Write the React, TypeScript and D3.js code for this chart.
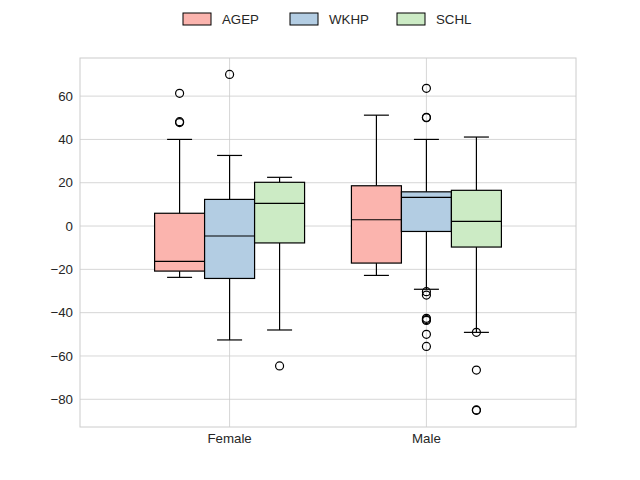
import React from "react";
import * as d3 from "d3";

const categories = ["Female", "Male"];
const seriesNames = ["AGEP", "WKHP", "SCHL"];
const seriesColors = ["#fbb4ae", "#b3cde3", "#ccebc5"];
const yTicks = [-80, -60, -40, -20, 0, 20, 40, 60];

// per series: [Female, Male]
const q1 = [[-20.8, -17.1], [-24.2, -2.5], [-7.8, -9.7]];
const medians = [[-16.3, 2.9], [-4.6, 13.2], [10.5, 2.2]];
const q3 = [[5.9, 18.6], [12.3, 15.8], [20.2, 16.5]];
const whiskerLow = [[-23.7, -22.8], [-52.6, -29.2], [-48.0, -49.1]];
const whiskerHigh = [[40.0, 51.2], [32.6, 40.0], [22.5, 41.1]];
const outliers = [
  [[61.3, 48.2, 47.8], []],
  [[70.0], [63.6, 50.2, 50.0, -30.3, -31.9, -42.6, -43.2, -43.6, -50.0, -55.6]],
  [[-64.6], [-49.1, -66.5, -84.9, -85.1]],
];

const W = 640, H = 480;
const left = 80, right = 576, top = 58, bottom = 427;
const font = "'Liberation Sans', Arial, sans-serif";
const textColor = "#262626";

export default function App() {
  const x = d3.scaleLinear().domain([-0.76, 1.76]).range([left, right]);
  const y = d3.scaleLinear().domain([-92.8, 77.6]).range([bottom, top]);
  const boxW = 0.254; // in category units
  const offsets = [-1, 0, 1];
  const pxW = x(boxW) - x(0);
  const capW = pxW / 2;

  return (
    <svg width={W} height={H} style={{ position: "absolute", left: 0, top: 0 }}>
      <rect x={0} y={0} width={W} height={H} fill="#fff" />
      {yTicks.map((t) => (
        <g key={t}>
          <line x1={left} x2={right} y1={y(t)} y2={y(t)} stroke="#cccccc" strokeWidth={0.8} />
          <text x={left - 7} y={y(t)} dy="0.35em" textAnchor="end" fontSize={13.3} fontFamily={font} fill={textColor}>
            {t === 0 ? "0" : `\u2212${Math.abs(t)}`.replace("\u2212", t < 0 ? "\u2212" : "").replace(/^/, "")}
          </text>
        </g>
      ))}
      {categories.map((c, i) => (
        <g key={c}>
          <line x1={x(i)} x2={x(i)} y1={top} y2={bottom} stroke="#cccccc" strokeWidth={0.8} />
          <text x={x(i)} y={bottom + 16} textAnchor="middle" fontSize={13.3} fontFamily={font} fill={textColor}>
            {c}
          </text>
        </g>
      ))}
      <rect x={left} y={top} width={right - left} height={bottom - top} fill="none" stroke="#cccccc" strokeWidth={1} />
      {seriesNames.map((s, si) =>
        categories.map((c, ci) => {
          const cx = x(ci + offsets[si] * boxW);
          return (
            <g key={s + c}>
              <line x1={cx} x2={cx} y1={y(q3[si][ci])} y2={y(whiskerHigh[si][ci])} stroke="#000" strokeWidth={1.2} />
              <line x1={cx} x2={cx} y1={y(q1[si][ci])} y2={y(whiskerLow[si][ci])} stroke="#000" strokeWidth={1.2} />
              <line x1={cx - capW / 2} x2={cx + capW / 2} y1={y(whiskerHigh[si][ci])} y2={y(whiskerHigh[si][ci])} stroke="#000" strokeWidth={1.2} />
              <line x1={cx - capW / 2} x2={cx + capW / 2} y1={y(whiskerLow[si][ci])} y2={y(whiskerLow[si][ci])} stroke="#000" strokeWidth={1.2} />
              <rect
                x={cx - pxW / 2}
                width={pxW}
                y={y(q3[si][ci])}
                height={y(q1[si][ci]) - y(q3[si][ci])}
                fill={seriesColors[si]}
                stroke="#000"
                strokeWidth={1.2}
              />
              <line x1={cx - pxW / 2} x2={cx + pxW / 2} y1={y(medians[si][ci])} y2={y(medians[si][ci])} stroke="#000" strokeWidth={1.2} />
              {outliers[si][ci].map((o, oi) => (
                <circle key={oi} cx={cx} cy={y(o)} r={4} fill="none" stroke="#000" strokeWidth={1.2} />
              ))}
            </g>
          );
        })
      )}
      {seriesNames.map((s, si) => {
        const lx = 183 + si * 107;
        return (
          <g key={s}>
            <rect x={lx} y={13} width={28} height={12} fill={seriesColors[si]} stroke="#000" strokeWidth={1} />
            <text x={lx + 39} y={19} dy="0.35em" fontSize={13.3} fontFamily={font} fill={textColor}>
              {s}
            </text>
          </g>
        );
      })}
    </svg>
  );
}
